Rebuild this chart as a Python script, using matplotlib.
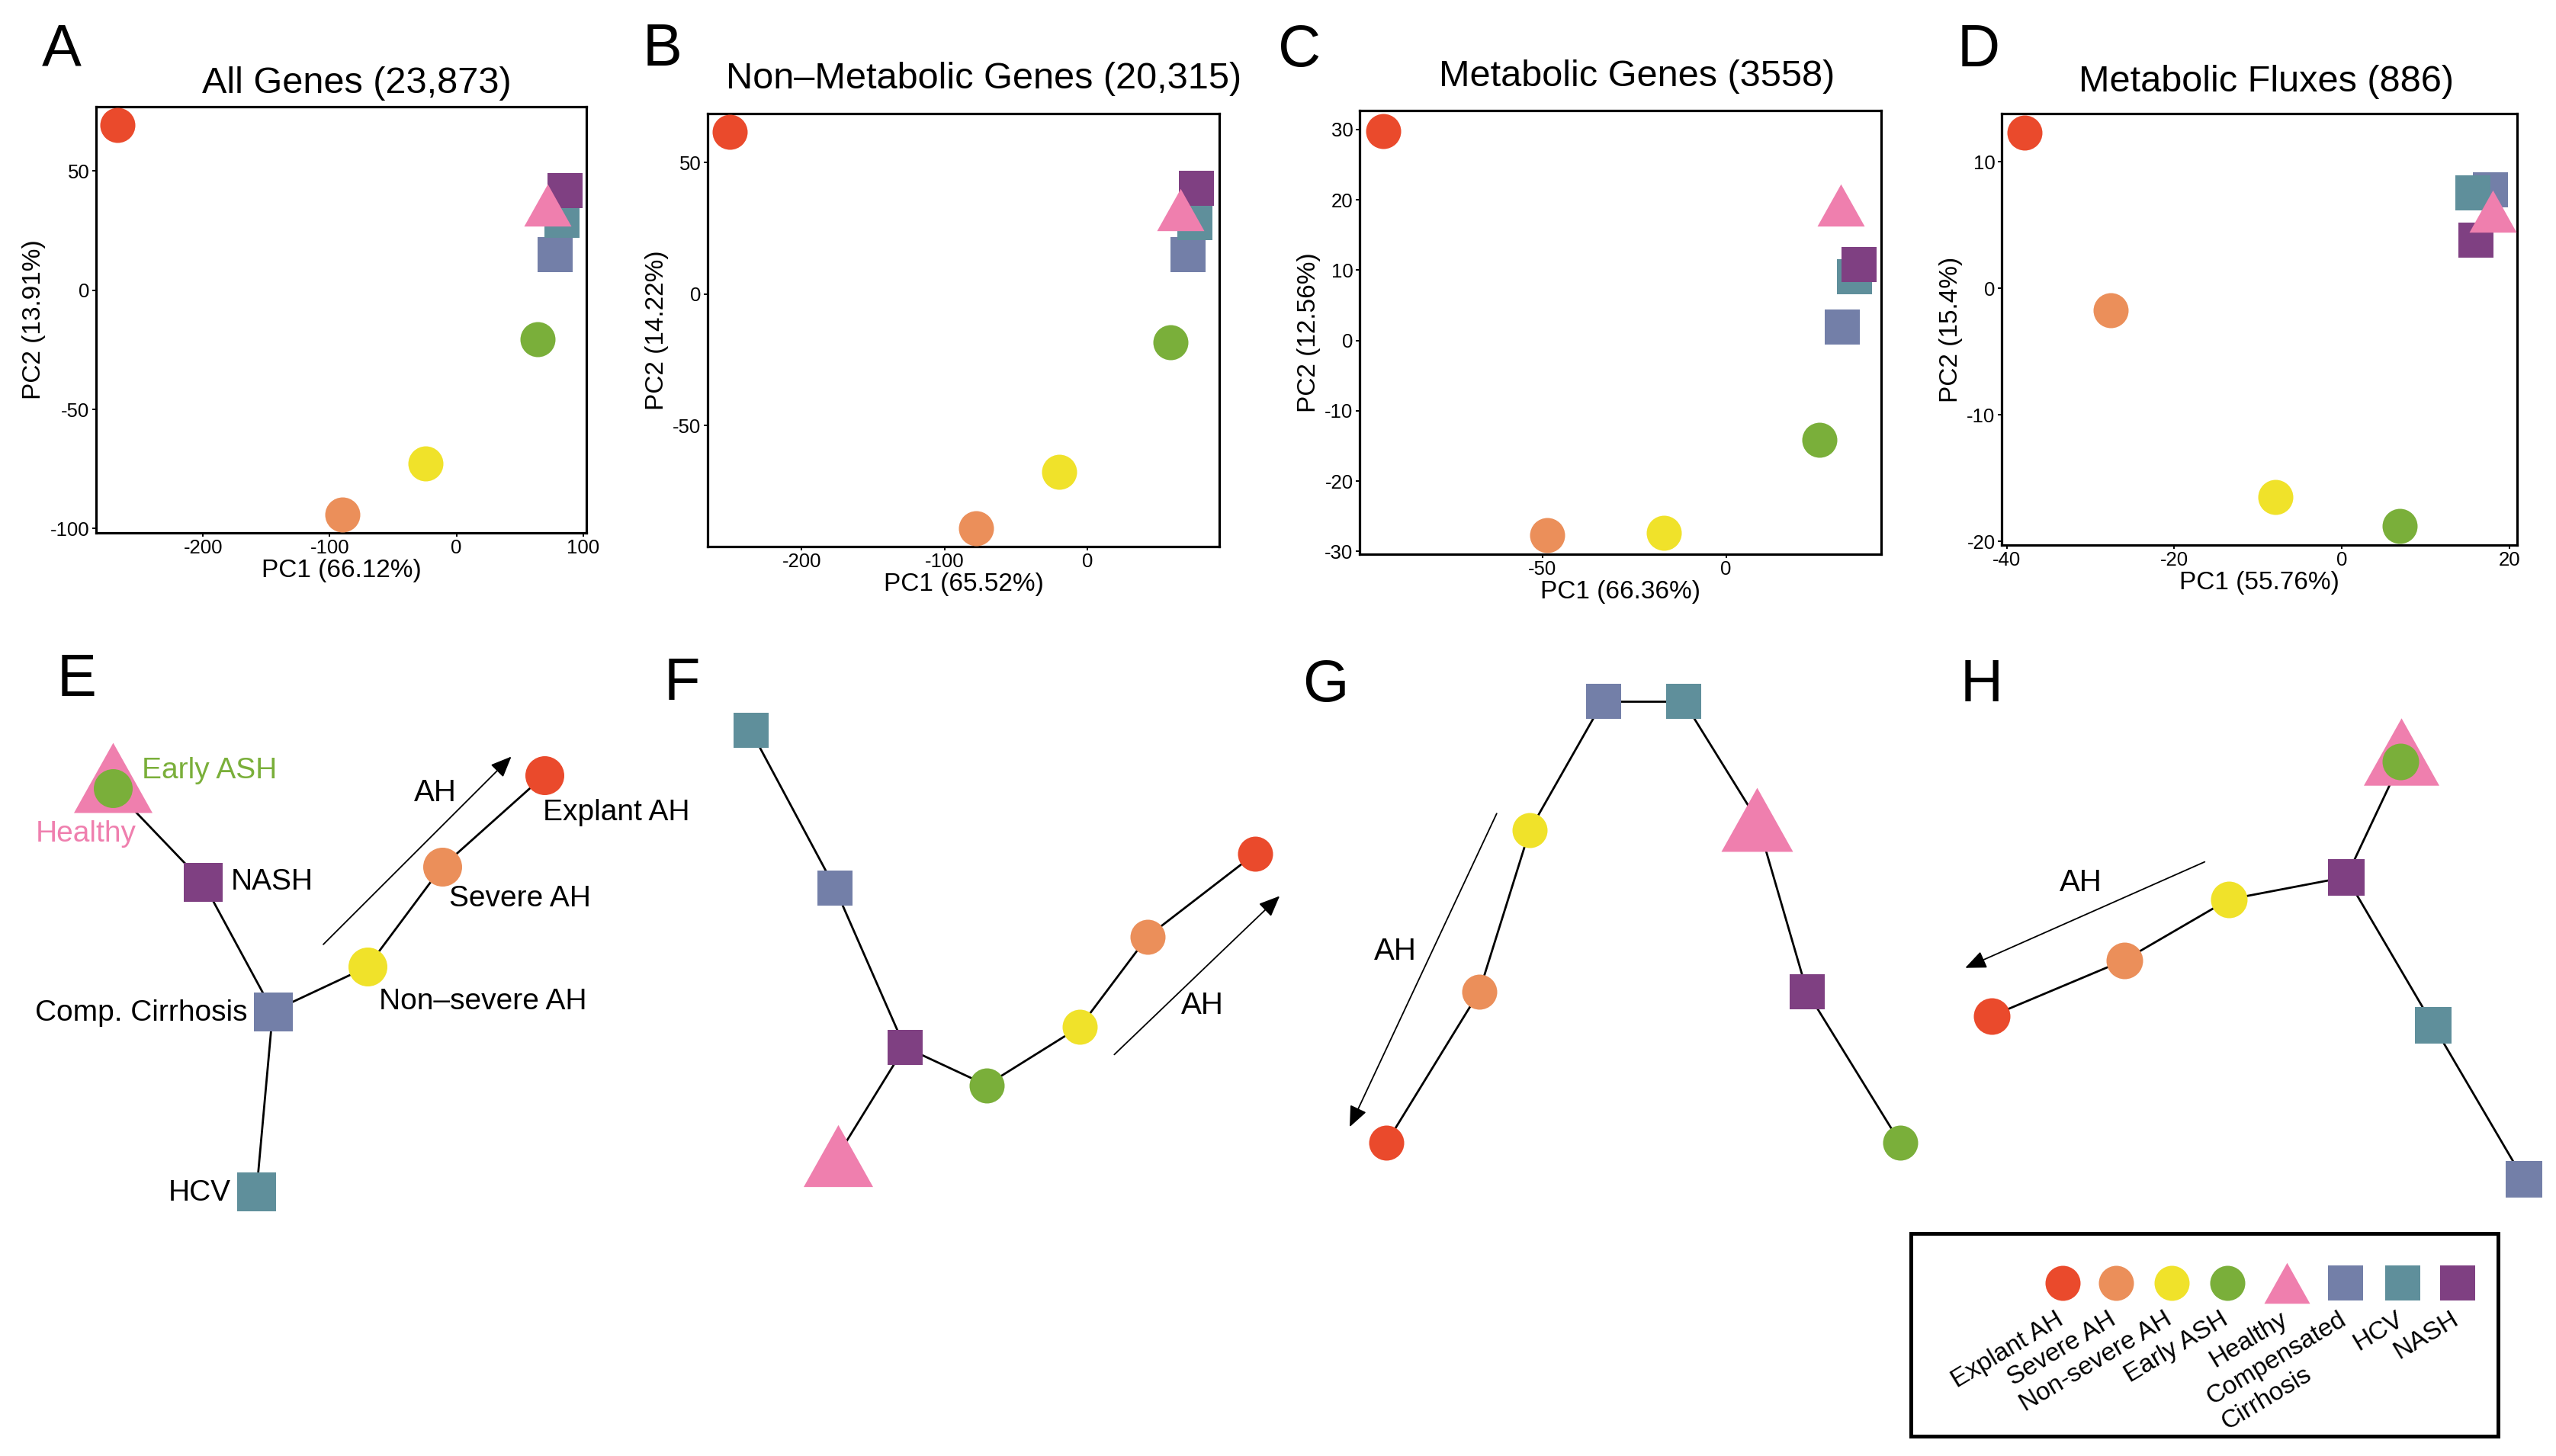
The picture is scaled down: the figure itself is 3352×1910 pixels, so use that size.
import numpy as np
import matplotlib
matplotlib.use('Agg')
import matplotlib.pyplot as plt
from matplotlib.patches import Rectangle

plt.rcParams['font.family'] = ['Liberation Sans', 'DejaVu Sans']
plt.rcParams['axes.unicode_minus'] = False

W, H = 3352, 1910
DPI = 100
PT = 72 / DPI  # points per pixel

# groups, colours, shapes
groups = ['Explant AH', 'Severe AH', 'Non-severe AH', 'Early ASH', 'Healthy',
          'Compensated\nCirrhosis', 'HCV', 'NASH']
colors = ['#EA4A2C', '#EB8F5A', '#F0E22A', '#7AAF3A', '#EF7FAE',
          '#737FA8', '#5F8F9B', '#7F4082']
shapes = ['o', 'o', 'o', 'o', 'tri', 's', 's', 's']
draw_order = [0, 1, 2, 3, 5, 6, 7, 4]
TRI = [(-0.56, -0.5), (0.56, -0.5), (0.0, 0.5)]

# PCA panels (A-D)
pca_titles = ['All Genes (23,873)', 'Non\u2013Metabolic Genes (20,315)',
              'Metabolic Genes (3558)', 'Metabolic Fluxes (886)']
pc1_labels = ['PC1 (66.12%)', 'PC1 (65.52%)', 'PC1 (66.36%)', 'PC1 (55.76%)']
pc2_labels = ['PC2 (13.91%)', 'PC2 (14.22%)', 'PC2 (12.56%)', 'PC2 (15.4%)']
pc1 = [
    [-267.4, -90.3, -24.5, 64.2, 72.0, 78.0, 83.5, 85.5],
    [-250.0, -78.0, -19.7, 58.0, 64.9, 70.6, 75.0, 76.3],
    [-93.3, -48.7, -16.9, 25.3, 31.3, 31.6, 35.0, 36.1],
    [-37.9, -27.6, -7.95, 6.9, 18.0, 17.7, 15.6, 15.95],
]
pc2 = [
    [69.2, -94.2, -72.7, -20.6, 35.7, 15.1, 29.4, 41.7],
    [61.6, -89.0, -67.6, -18.2, 32.2, 15.0, 27.2, 40.3],
    [29.8, -27.7, -27.4, -14.1, 19.3, 1.9, 9.1, 10.8],
    [12.3, -1.77, -16.5, -18.8, 6.1, 7.8, 7.56, 3.8],
]
xticks = [[-200, -100, 0, 100], [-200, -100, 0], [-50, 0], [-40, -20, 0, 20]]
yticks = [[50, 0, -50, -100], [50, 0, -50], [30, 20, 10, 0, -10, -20, -30], [10, 0, -10, -20]]
xlims = [(-284.5, 102.6), (-265.7, 92.3), (-99.7, 42.2), (-40.6, 20.9)]
ylims = [(-101.8, 77.0), (-96.0, 68.7), (-30.4, 32.7), (-20.3, 13.8)]

# trajectory layouts (E-H), in figure pixel frame
traj_x = [
    [714, 579.5, 482, 148.4, 148.4, 357.8, 336.4, 266],
    [1646, 1505.2, 1416.3, 1293.7, 1098.7, 1095, 984.6, 1186.5],
    [1818.2, 1939.8, 2006.2, 2492, 2304, 2102.6, 2207.6, 2369.9],
    [2612, 2785.9, 2922.8, 3148.4, 3149, 3309.8, 3191.3, 3077],
]
traj_y = [
    [1017.1, 1137.3, 1268.3, 1034.2, 1020.4, 1326.5, 1563, 1157],
    [1119.9, 1228.5, 1346.9, 1423.5, 1515.6, 1164.7, 958.4, 1373.5],
    [1499.2, 1301.2, 1089, 1499.2, 1074.9, 919.5, 919.5, 1301.2],
    [1332.7, 1259.6, 1179.9, 999.1, 986, 1547.4, 1345.4, 1150.5],
]
traj_edges = [
    [(3, 7), (7, 5), (5, 6), (5, 2), (2, 1), (1, 0)],
    [(6, 5), (5, 7), (7, 4), (7, 3), (3, 2), (2, 1), (1, 0)],
    [(5, 6), (5, 2), (2, 1), (1, 0), (6, 4), (4, 7), (7, 3)],
    [(3, 7), (7, 6), (6, 5), (7, 2), (2, 1), (1, 0)],
]
traj_order = [[4, 0, 1, 2, 3, 5, 6, 7], [0, 1, 2, 3, 4, 5, 6, 7],
              [0, 1, 2, 3, 4, 5, 6, 7], [4, 3, 0, 1, 2, 5, 6, 7]]
node_px = [51, 46, 46, 48]
tri_px = [103, 91, 94, 99]
arrows = [((424, 1238.9), (670.6, 992.5)), ((1461.3, 1383.4), (1678.2, 1175.4)),
          ((1962.8, 1067.2), (1770, 1478.4)), ((2891.3, 1130.6), (2577.2, 1269.7))]
ah_pos = [(571, 1040), (1576.5, 1318.5), (1830, 1248), (2729.3, 1157.5)]

# node labels of panel E
e_labels = [('Early ASH', 186, 1010.5, 'left', colors[3]),
            ('Healthy', 47, 1094, 'left', colors[4]),
            ('NASH', 302.6, 1157.4, 'left', 'black'),
            ('Comp. Cirrhosis', 324, 1329, 'right', 'black'),
            ('HCV', 302.6, 1565, 'right', 'black'),
            ('Non\u2013severe AH', 497, 1313.7, 'left', 'black'),
            ('Severe AH', 589, 1179.2, 'left', 'black'),
            ('Explant AH', 712, 1066.4, 'left', 'black')]

# legend
legend_x = [2705, 2774.5, 2848, 2921, 2999, 3076, 3151, 3223]
legend_y = 1683

panel_letters = ['A', 'B', 'C', 'D', 'E', 'F', 'G', 'H']
letter_pos = [(55, 86), (843, 86), (1676, 87), (2567, 87),
              (75, 913), (871, 918), (1708, 920), (2571, 920)]

axes_px = [(126, 140, 769, 699), (928, 149, 1599, 717),
           (1783, 145, 2467, 727), (2625, 149, 3301, 715)]
title_x = [0.532, 0.539, 0.531, 0.513]
title_pad = [13.3, 23.8, 23.2, 21.2]


def marker_of(shape):
    return TRI if shape == 'tri' else shape


fig = plt.figure(figsize=(W / DPI, H / DPI), dpi=DPI)

for i in range(4):
    x0, y0, x1, y1 = axes_px[i]
    ax = fig.add_axes([x0 / W, 1 - y1 / H, (x1 - x0) / W, (y1 - y0) / H])
    for k in draw_order:
        size = 62 if shapes[k] == 'tri' else 46
        ax.scatter(pc1[i][k], pc2[i][k], s=(size * PT) ** 2, c=colors[k],
                   marker=marker_of(shapes[k]), linewidths=0, zorder=3)
    ax.set_xlim(*xlims[i])
    ax.set_ylim(*ylims[i])
    ax.set_xticks(xticks[i])
    ax.set_yticks(yticks[i])
    ax.tick_params(direction='out', length=3.6, width=1.4, labelsize=18.5, pad=2.5)
    for sp in ax.spines.values():
        sp.set_linewidth(2.3)
    ax.set_xlabel(pc1_labels[i], fontsize=24, labelpad=1)
    ax.set_ylabel(pc2_labels[i], fontsize=24, labelpad=4)
    ax.set_title(pca_titles[i], fontsize=35, x=title_x[i], pad=title_pad[i])

# overlay in pixel frame for the trajectory panels and legend
ov = fig.add_axes([0, 0, 1, 1], zorder=-1)
ov.set_xlim(0, W)
ov.set_ylim(H, 0)
ov.axis('off')

for p in range(4):
    xs, ys = traj_x[p], traj_y[p]
    for a, b in traj_edges[p]:
        ov.plot([xs[a], xs[b]], [ys[a], ys[b]], color='black', lw=2.0,
                solid_capstyle='butt', zorder=1)
    for k in traj_order[p]:
        size = tri_px[p] if shapes[k] == 'tri' else node_px[p]
        ov.scatter(xs[k], ys[k], s=(size * PT) ** 2, c=colors[k],
                   marker=marker_of(shapes[k]), linewidths=0, zorder=2)
    (sx, sy), (ex, ey) = arrows[p]
    ov.annotate('', xy=(ex, ey), xytext=(sx, sy),
                arrowprops=dict(arrowstyle='-|>,head_length=0.4,head_width=0.17',
                                lw=1.3, color='black', mutation_scale=42,
                                shrinkA=0, shrinkB=0))
    ov.text(ah_pos[p][0], ah_pos[p][1], 'AH', fontsize=29, ha='center', va='center')

for txt, tx, ty, ha, col in e_labels:
    ov.text(tx, ty, txt, fontsize=28, ha=ha, va='center', color=col)

# legend box
ov.add_patch(Rectangle((2506, 1618), 770, 266, fill=False, lw=3.6,
                       edgecolor='black', zorder=1))
for k in range(len(groups)):
    size = 60 if shapes[k] == 'tri' else 46
    ov.scatter(legend_x[k], legend_y, s=(size * PT) ** 2, c=colors[k],
               marker=marker_of(shapes[k]), linewidths=0, zorder=2)
    ov.text(legend_x[k] - 10, legend_y + 32, groups[k], fontsize=24, rotation=31,
            rotation_mode='anchor', ha='right', va='top', multialignment='left',
            linespacing=1.35)

for letter, (lx, ly) in zip(panel_letters, letter_pos):
    fig.text(lx / W, 1 - ly / H, letter, fontsize=56, ha='left', va='baseline')

fig.savefig('out.png', dpi=DPI, facecolor='white')
